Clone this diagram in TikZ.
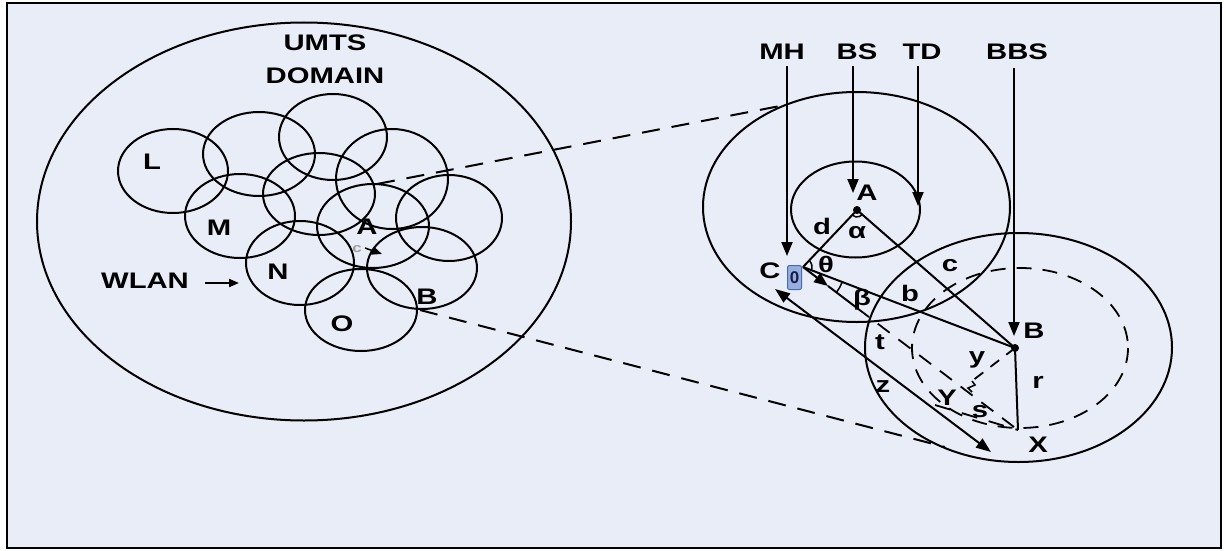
\documentclass[tikz,border=0pt]{standalone}
\usepackage{fontspec}
\setmainfont{Liberation Sans}
\usepackage{graphicx}
\usetikzlibrary{arrows.meta}
\definecolor{bgc}{RGB}{232,237,247}
\definecolor{boxfill}{RGB}{150,175,222}
\definecolor{boxline}{RGB}{70,105,185}
\definecolor{boxtext}{RGB}{20,30,70}
\newcommand{\stx}[1]{\scalebox{1.3}[1]{#1}}
\tikzset{
  lbl/.style={font=\fontsize{22.5}{24}\selectfont\bfseries, inner sep=0pt},
  smalllbl/.style={font=\fontsize{13}{14}\selectfont\bfseries, inner sep=0pt, text=gray!75},
  ln/.style={line width=2pt},
  thinln/.style={line width=1.5pt},
  dsh/.style={line width=2pt, dash pattern=on 18pt off 12pt},
  dshsmall/.style={line width=1.8pt, dash pattern=on 15pt off 11pt},
  tip/.style={-{Triangle[length=14pt,width=11pt]}},
  tipsmall/.style={-{Triangle[length=10pt,width=8pt]}},
  bothtip/.style={{Triangle[length=15pt,width=11pt]}-{Triangle[length=15pt,width=11pt]}},
}
\begin{document}
\begin{tikzpicture}[x=1pt,y=-1pt]
\useasboundingbox (0,0) rectangle (1226,551);
\fill[white] (0,0) rectangle (1226,551);
\draw[line width=2.5pt, fill=bgc] (7,3) rectangle (1221,548);

% ---------------- left: UMTS domain ----------------
\draw[ln] (304,221.5) ellipse [x radius=267, y radius=199];
\draw[ln] (173,171) ellipse [x radius=55, y radius=42];   % L
\draw[ln] (259,154) ellipse [x radius=56, y radius=42];
\draw[ln] (333,137) ellipse [x radius=54, y radius=43];
\draw[ln] (392,179) ellipse [x radius=56, y radius=50];
\draw[ln] (449,218) ellipse [x radius=53, y radius=43];
\draw[ln] (240,216) ellipse [x radius=55, y radius=42];   % M
\draw[ln] (319,194) ellipse [x radius=56, y radius=41];
\draw[ln] (373,226) ellipse [x radius=56, y radius=42];   % A
\draw[ln] (300,263) ellipse [x radius=54, y radius=42];   % N
\draw[ln] (422,268) ellipse [x radius=55, y radius=41];   % B
\draw[ln] (361,310) ellipse [x radius=56, y radius=41];   % O

\node[lbl] (umts) at (325,43) {\stx{UMTS}};
\node[lbl] (domain) at (325,76) {\stx{DOMAIN}};
\node[lbl] (lL) at (152,162) {\stx{L}};
\node[lbl] (lM) at (219,228) {\stx{M}};
\node[lbl] (lN) at (278,272) {\stx{N}};
\node[lbl] (lO) at (342,324) {\stx{O}};
\node[lbl] (lA) at (367,227) {\stx{A}};
\node[lbl] (lB) at (427,297) {\stx{B}};
\node[smalllbl] (lc) at (357,249) {\stx{c}};
\coordinate (ca1) at (365,248);
\coordinate (ca2) at (382,254);
\draw[thinln, tipsmall] (ca1) -- (ca2);
\node[lbl] (wlan) at (145,281) {\stx{WLAN}};
\coordinate (wa1) at (205,283);
\coordinate (wa2) at (239,283);
\draw[ln, tipsmall] (wa1) -- (wa2);

% projection lines
\coordinate (pA) at (377,184);
\coordinate (pA2) at (780,106);
\coordinate (pB) at (420,310);
\coordinate (pB2) at (945,447);
\draw[dsh] (pA) -- (pA2);
\draw[dsh] (pB) -- (pB2);

% ---------------- right: zoomed cells ----------------
\draw[ln] (856.5,207) ellipse [x radius=153.5, y radius=115];
\draw[ln] (855.5,209.5) ellipse [x radius=64.5, y radius=48];
\draw[ln] (1018.5,347.5) ellipse [x radius=153.5, y radius=114.5];
\draw[dshsmall] (1020,348) ellipse [x radius=108, y radius=80];

\coordinate (A) at (857,210);
\coordinate (B) at (1015,348);
\coordinate (C) at (803,267);
\coordinate (X) at (1018,430);

% pointer labels
\node[lbl] (mh) at (782,52) {\stx{MH}};
\node[lbl] (bs) at (857,52) {\stx{BS}};
\node[lbl] (td) at (922,52) {\stx{TD}};
\node[lbl] (bbs) at (1017,52) {\stx{BBS}};
\coordinate (mhE) at (787,256);
\coordinate (bsE) at (853,193);
\coordinate (tdE) at (918,206);
\coordinate (bbsE) at (1014,336);
\draw[ln, tip] (787,66) -- (mhE);
\draw[ln, tip] (853,66) -- (bsE);
\draw[ln, tip] (918,66) -- (tdE);
\draw[ln, tip] (1014,68) -- (bbsE);

% triangle lines
\draw[ln] (C) -- (A);
\draw[ln] (A) -- (B);
\draw[ln] (C) -- (B);
\draw[ln] (B) -- (X);

% t line: solid with arrow, then dashed
\coordinate (tA) at (828,286);
\coordinate (tB) at (857,308);
\draw[ln, tip] (C) -- (tA);
\draw[ln] (tA) -- (tB);
\draw[dshsmall] (tB) -- (X);

% z double arrow
\coordinate (z1) at (775,289);
\coordinate (z2) at (991,452);
\draw[ln, bothtip] (z1) -- (z2);

% y dashed with break
\coordinate (y1) at (972,381);
\coordinate (y2) at (972,392);
\draw[dshsmall, dash pattern=on 11pt off 9pt] (B) -- (y1);
\draw[thinln] (y1) -- (975,385) -- (968,388) -- (y2);

% s dashed
\coordinate (s1) at (935,405);
\draw[dshsmall, dash pattern=on 16pt off 12pt] (s1) -- (X);

% small arcs
\draw[thinln] ([shift={(41:7)}]A) arc[start angle=41, end angle=134, radius=7];
\draw[thinln] ([shift={(-46:9)}]C) arc[start angle=-46, end angle=21, radius=9];
\draw[thinln] ([shift={(21:42)}]C) arc[start angle=21, end angle=37, radius=42];

% dots
\fill (A) circle (4);
\fill (B) circle (4);

% highlighted glyph box
\node[draw=boxline, fill=boxfill, line width=1pt, rounded corners=2pt,
      minimum width=14pt, minimum height=24pt, inner sep=0pt,
      font=\fontsize{17}{18}\selectfont\bfseries, text=boxtext] (mhbox) at (794.5,277.5) {0};

% labels right
\node[lbl] (rA) at (867,193) {\stx{A}};
\node[lbl] (rB) at (1034,331) {\stx{B}};
\node[lbl] (rC) at (770,271) {\stx{C}};
\node[lbl] (rX) at (1038,445) {\stx{X}};
\node[lbl] (ld) at (822,226) {\stx{d}};
\node[lbl] (lalpha) at (857,233) {\stx{α}};
\node[lbl] (ltheta) at (826,264) {\stx{θ}};
\node[lbl] (lbeta) at (862,300) {\stx{β}};
\node[lbl] (lcc) at (950,266) {\stx{c}};
\node[lbl] (lbb) at (910,293) {\stx{b}};
\node[lbl] (lt) at (880,342) {\stx{t}};
\node[lbl] (lz) at (883,387) {\stx{z}};
\node[lbl] (ly) at (977,360) {\stx{y}};
\node[lbl] (lY) at (947,398) {\stx{Y}};
\node[lbl] (ls) at (980,412) {\stx{s}};
\node[lbl] (lr) at (1038,382) {\stx{r}};
\end{tikzpicture}
\end{document}
